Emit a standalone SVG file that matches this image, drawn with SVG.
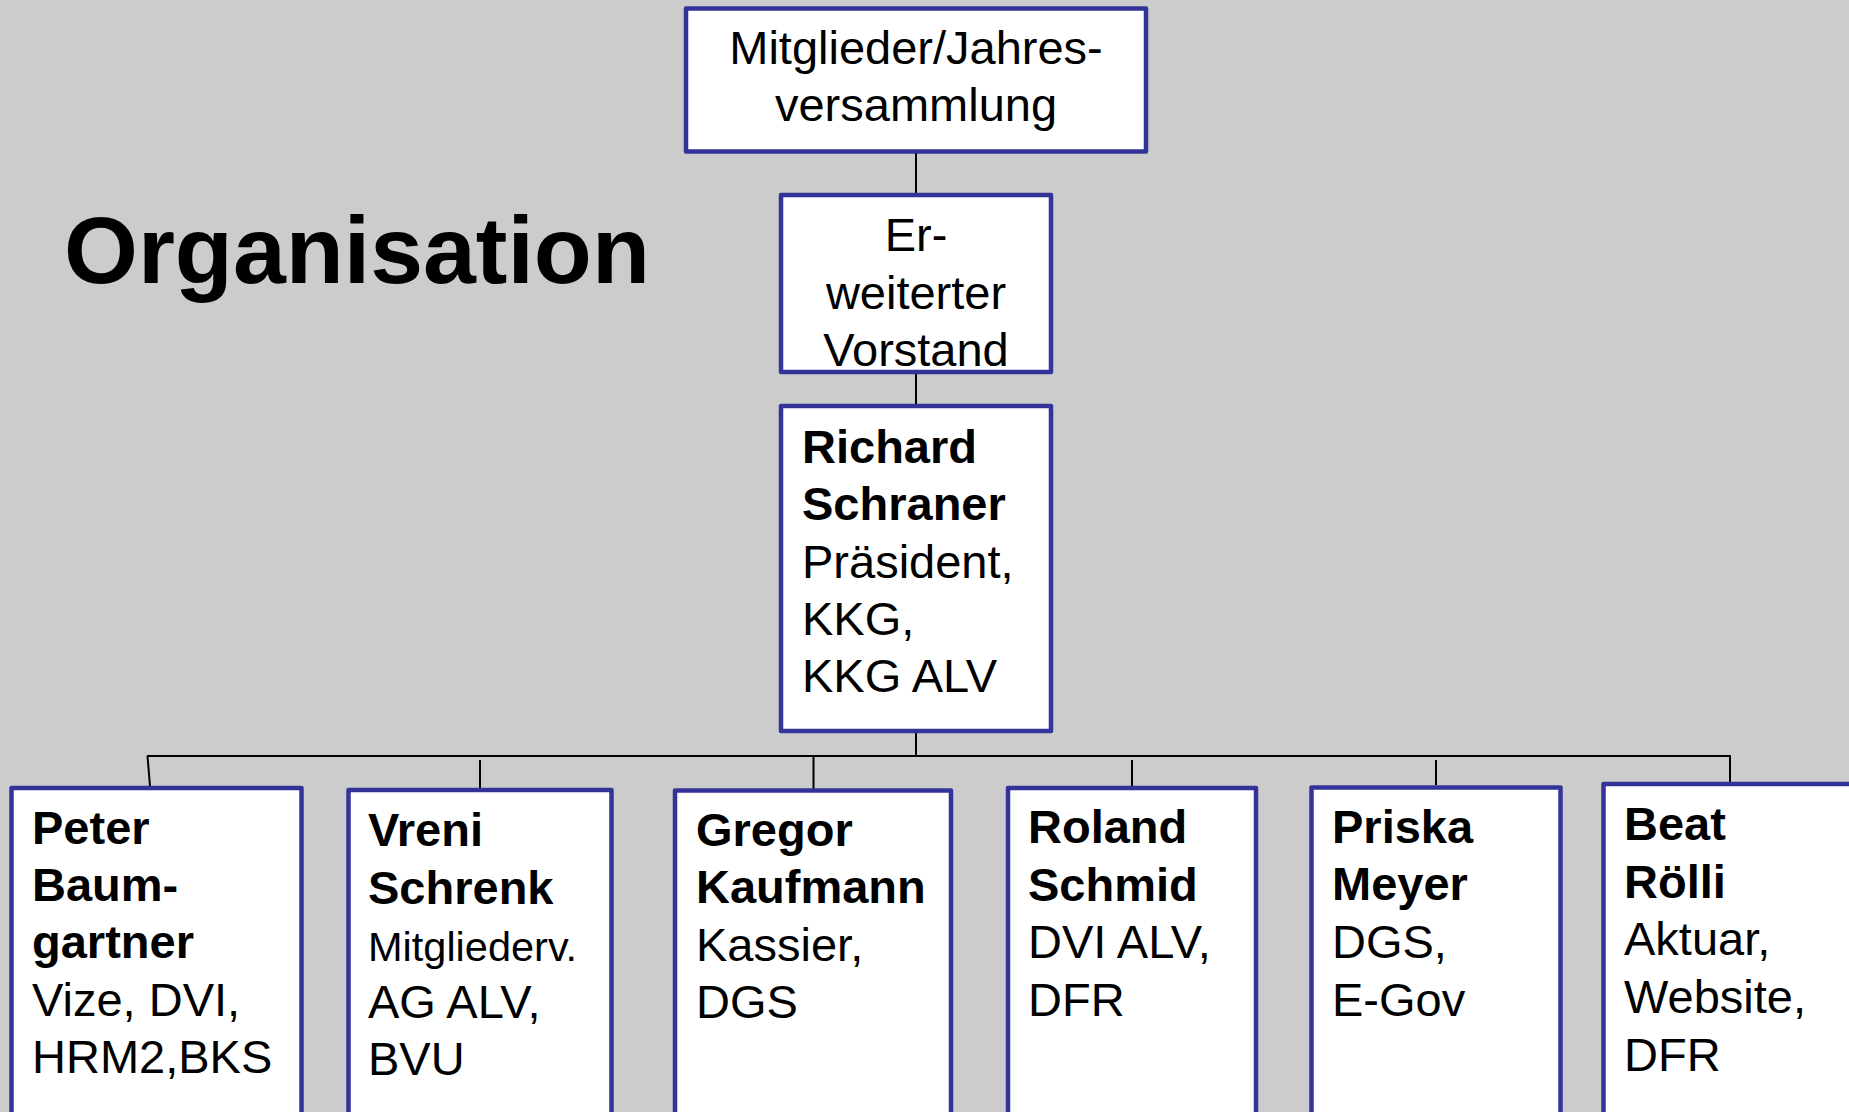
<svg xmlns="http://www.w3.org/2000/svg" width="1849" height="1112" viewBox="0 0 1849 1112">
<style>
.box{fill:#ffffff;stroke:#333399;stroke-width:4.5;stroke-linejoin:round}
.con{stroke:#000000;stroke-width:2;fill:none}
text{font-family:"Liberation Sans",Arial,sans-serif;font-size:47px;fill:#000000}
.b{font-weight:bold}
.c{text-anchor:middle}
.title{font-size:95px;font-weight:bold}
</style>
<rect x="0" y="0" width="1849" height="1112" fill="#cccccc"/>
<text class="title" x="64" y="283">Organisation</text>
<g id="connectors">
<line class="con" x1="916" y1="153" x2="916" y2="195"/>
<line class="con" x1="916" y1="374" x2="916" y2="406"/>
<line class="con" x1="916" y1="732" x2="916" y2="756"/>
<line class="con" x1="147" y1="756" x2="1731" y2="756"/>
<line class="con" x1="147.5" y1="756" x2="150" y2="786"/>
<line class="con" x1="480" y1="760" x2="480" y2="788"/>
<line class="con" x1="813.5" y1="756" x2="813.5" y2="789"/>
<line class="con" x1="1132" y1="760" x2="1132" y2="786"/>
<line class="con" x1="1436" y1="760" x2="1436" y2="785"/>
<line class="con" x1="1730" y1="756" x2="1730" y2="782"/>
</g>
<g id="jahresversammlung">
<rect class="box" x="686" y="8.5" width="460" height="143"/>
<text class="c" x="916" y="64">Mitglieder/Jahres-</text>
<text class="c" x="916" y="121">versammlung</text>
</g>
<g id="erweiterter-vorstand">
<rect class="box" x="781" y="195" width="270" height="177"/>
<text class="c" x="916" y="251">Er-</text>
<text class="c" x="916" y="309">weiterter</text>
<text class="c" x="916" y="366">Vorstand</text>
</g>
<g id="richard">
<rect class="box" x="781" y="406" width="270" height="325"/>
<text class="b" x="802" y="463">Richard</text>
<text class="b" x="802" y="520">Schraner</text>
<text x="802" y="578">Präsident,</text>
<text x="802" y="635">KKG,</text>
<text x="802" y="692">KKG ALV</text>
</g>
<g id="peter">
<rect class="box" x="11.5" y="788" width="290" height="360"/>
<text class="b" x="32" y="844">Peter</text>
<text class="b" x="32" y="901">Baum-</text>
<text class="b" x="32" y="958">gartner</text>
<text x="32" y="1016">Vize, DVI,</text>
<text x="32" y="1073">HRM2,BKS</text>
</g>
<g id="vreni">
<rect class="box" x="348.5" y="790" width="263" height="360"/>
<text class="b" x="368" y="846">Vreni</text>
<text class="b" x="368" y="904">Schrenk</text>
<text x="368" y="961" style="font-size:41.5px">Mitgliederv.</text>
<text x="368" y="1018">AG ALV,</text>
<text x="368" y="1075">BVU</text>
</g>
<g id="gregor">
<rect class="box" x="675" y="790.5" width="276" height="360"/>
<text class="b" x="696" y="846">Gregor</text>
<text class="b" x="696" y="903">Kaufmann</text>
<text x="696" y="961">Kassier,</text>
<text x="696" y="1018">DGS</text>
</g>
<g id="roland">
<rect class="box" x="1008" y="788" width="248" height="360"/>
<text class="b" x="1028" y="843">Roland</text>
<text class="b" x="1028" y="901">Schmid</text>
<text x="1028" y="958">DVI ALV,</text>
<text x="1028" y="1016">DFR</text>
</g>
<g id="priska">
<rect class="box" x="1311.5" y="787.5" width="249" height="360"/>
<text class="b" x="1332" y="843">Priska</text>
<text class="b" x="1332" y="900">Meyer</text>
<text x="1332" y="958">DGS,</text>
<text x="1332" y="1016">E-Gov</text>
</g>
<g id="beat">
<rect class="box" x="1603.5" y="784" width="300" height="360"/>
<text class="b" x="1624" y="840">Beat</text>
<text class="b" x="1624" y="898">Rölli</text>
<text x="1624" y="955">Aktuar,</text>
<text x="1624" y="1013">Website,</text>
<text x="1624" y="1071">DFR</text>
</g>
</svg>
